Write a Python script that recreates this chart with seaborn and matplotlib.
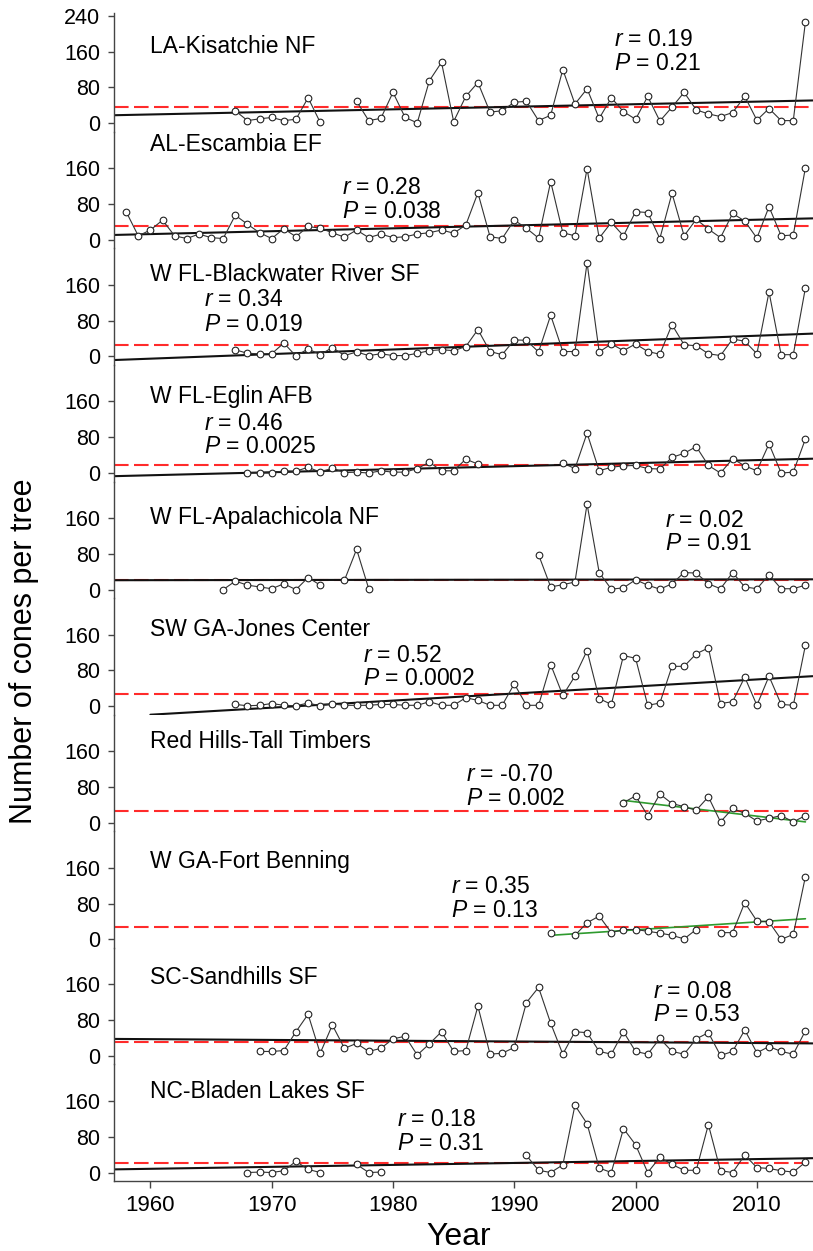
import numpy as np
import pandas as pd
import matplotlib
matplotlib.use("Agg")
import matplotlib.pyplot as plt
import seaborn as sns

nan = np.nan

# ---------------- data ----------------
site_names = ["LA-Kisatchie NF", "AL-Escambia EF", "W FL-Blackwater River SF",
              "W FL-Eglin AFB", "W FL-Apalachicola NF", "SW GA-Jones Center",
              "Red Hills-Tall Timbers", "W GA-Fort Benning", "SC-Sandhills SF",
              "NC-Bladen Lakes SF"]

start_years = [1967, 1958, 1967, 1968, 1966, 1967, 1999, 1993, 1969, 1968]

la_cones = [28, 6, 10, 13, 6, 9, 57, 2, nan, nan, 49, 6, 11, 69, 13, 1, 95, 136, 4, 60,
            91, 25, 28, 47, 49, 6, 18, 120, 43, 77, 11, 57, 26, 9, 60, 5, 36, 69, 30, 21,
            15, 24, 60, 7, 33, 6, 6, 226]
al_cones = [63, 9, 22, 44, 9, 3, 13, 5, 3, 55, 35, 16, 3, 25, 7, 30, 26, 16, 6, 22,
            5, 13, 5, 7, 13, 16, 22, 15, 33, 105, 7, 3, 44, 26, 4, 130, 16, 9, 159, 4,
            39, 9, 63, 61, 3, 104, 9, 46, 24, 5, 59, 42, 4, 74, 9, 11, 161]
bw_cones = [15, 7, 6, 6, 30, 1, 17, 4, 20, 2, 10, 2, 6, 2, 2, 7, 13, 15, 13, 22,
            60, 11, 4, 37, 36, 10, 92, 11, 11, 209, 10, 28, 13, 28, 11, 5, 71, 26, 24, 6,
            2, 39, 34, 6, 144, 4, 4, 153]
eg_cones = [0, 0, 0, 5, 4, 13, 2, 11, 1, 2, 0, 5, 2, 2, 10, 24, 5, 5, 31, 20,
            nan, nan, nan, nan, nan, nan,
            22, 10, 89, 5, 13, 16, 17, 10, 9, 35, 44, 59, 17, 0, 32, 16, 5, 65, 0, 2, 76]
ap_cones = [0, 19, 10, 6, 2, 13, 0, 27, 10, nan, 21, 90, 2,
            nan, nan, nan, nan, nan, nan, nan, nan, nan, nan, nan, nan, nan,
            78, 6, 11, 17, 191, 38, 1, 4, 22, 10, 1, 13, 38, 37, 13, 2, 38, 6, 2, 33,
            2, 2, 10]
jc_cones = [4, 1, 2, 6, 2, 1, 7, 1, 5, 2, 2, 2, 4, 4, 2, 2, 10, 2, 2, 19,
            13, 2, 2, 50, 2, 2, 93, 24, 67, 124, 17, 4, 113, 107, 2, 7, 89, 89, 117, 130,
            6, 10, 65, 2, 67, 4, 2, 136]
rh_cones = [45, 60, 16, 64, 43, 36, 28, 58, 2, 32, 21, 4, 10, 16, 2, 16]
fb_cones = [15, nan, 9, 37, 52, 15, 22, 22, 18, 14, 9, 1, 22, nan, 15, 15, 82, 41, 39, 0,
            11, 140]
sc_cones = [10, 10, 12, 54, 93, 6, 69, 17, 28, 10, 17, 38, 44, 2, 27, 54, 10, 12, 111, 4,
            6, 19, 119, 153, 73, 4, 54, 52, 10, 4, 54, 10, 4, 39, 10, 4, 38, 52, 1, 10,
            58, 7, 21, 10, 4, 56]
bl_cones = [0, 1, 0, 4, 25, 7, 0, nan, nan, 18, 0, 1,
            nan, nan, nan, nan, nan, nan, nan, nan, nan, nan, nan,
            38, 5, 0, 17, 150, 109, 10, 0, 98, 62, 0, 34, 18, 5, 5, 107, 4, 0, 39, 11,
            9, 4, 1, 23]

all_cones = [la_cones, al_cones, bw_cones, eg_cones, ap_cones, jc_cones, rh_cones,
             fb_cones, sc_cones, bl_cones]

mean_levels = [37, 30, 26, 17, 21, 28, 26, 28, 32, 22]

trend_x0 = [1957, 1957, 1957, 1957, 1957, 1960, 1999, 1993, 1957, 1957]
trend_x1 = [2014.6, 2014.6, 2014.6, 2014.6, 2014.6, 2014.6, 2014, 2014, 2014.6, 2014.6]
trend_y0 = [18, 11, -8, -7, 21, -19, 50, 9, 38, 7]
trend_y1 = [51, 48, 51, 32, 23, 67, 2, 46, 28, 32]
trend_green = [False, False, False, False, False, False, True, True, False, False]

r_labels = ["0.19", "0.28", "0.34", "0.46", "0.02", "0.52", "-0.70", "0.35", "0.08", "0.18"]
p_labels = ["0.21", "0.038", "0.019", "0.0025", "0.91", "0.0002", "0.002", "0.13", "0.53", "0.31"]

x_ticks = [1960, 1970, 1980, 1990, 2000, 2010]
y_ticks = [0, 80, 160]

# ---------------- layout / style ----------------
title_pos = [(1960, 171), (1960, 212), (1960, 183), (1960, 170), (1960, 161),
             (1960, 172), (1960, 181), (1960, 173), (1960, 174), (1960, 181)]
stat_pos = [(1998.2, 186, 133), (1975.8, 116, 63), (1964.4, 127, 71), (1964.4, 110, 59),
            (2002.4, 155, 102), (1977.5, 114, 61), (1986.0, 107, 55), (1984.8, 117, 65),
            (2001.4, 144, 92), (1980.3, 119, 65)]

sns.set_theme(style="ticks")
plt.rcParams['font.family'] = ['Liberation Sans', 'DejaVu Sans']
plt.rcParams['mathtext.fontset'] = 'custom'
plt.rcParams['mathtext.rm'] = 'Liberation Sans'
plt.rcParams['mathtext.it'] = 'Liberation Sans:italic'
plt.rcParams['text.color'] = 'black'
plt.rcParams['xtick.labelcolor'] = 'black'
plt.rcParams['ytick.labelcolor'] = 'black'

W, H = 813, 1251
fig = plt.figure(figsize=(W / 100, H / 100), dpi=100)

px_per_unit = 0.448
px_per_year = 12.13
zero0, step = 123.3, 116.58
left_px = 114
ymin = -19
xmin = 1957
xmax = xmin + (W - left_px) / px_per_year

ytick_fs = 15.5
xtick_fs = 16
text_fs = 16.5
spine_col = "#444444"

for i in range(10):
    zero = zero0 + step * i
    bottom_px = zero - ymin * px_per_unit
    top_px = 13 if i == 0 else bottom_px - step
    h_px = bottom_px - top_px
    ax = fig.add_axes([left_px / W, 1 - bottom_px / H, (W - left_px) / W, h_px / H])
    ax.patch.set_alpha(0)

    cones = np.array(all_cones[i], dtype=float)
    years = np.arange(start_years[i], start_years[i] + len(cones))
    seg = np.cumsum(np.isnan(cones))
    df = pd.DataFrame({"year": years, "cones": cones, "seg": seg}).dropna()

    ax.axhline(mean_levels[i], color="#ff2b2b", lw=1.5, dashes=(7, 2.6), zorder=1)

    tdf = pd.DataFrame({"year": [trend_x0[i], trend_x1[i]],
                        "v": [trend_y0[i], trend_y1[i]]})
    sns.lineplot(data=tdf, x="year", y="v", ax=ax,
                 color="#2e9a2e" if trend_green[i] else "#111111",
                 lw=1.2 if trend_green[i] else 1.5, zorder=2, legend=False)

    sns.lineplot(data=df, x="year", y="cones", units="seg", estimator=None, ax=ax,
                 color="#333333", lw=0.8, marker="o", markersize=4.8,
                 markerfacecolor="white", markeredgecolor="#222222",
                 markeredgewidth=0.8, zorder=3, legend=False, clip_on=False)

    ax.set_xlim(xmin, xmax)
    ax.set_ylim(ymin, ymin + h_px / px_per_unit)
    ax.set_xlabel("")
    ax.set_ylabel("")

    yt = y_ticks + ([240] if i == 0 else [])
    ax.set_yticks(yt)
    ax.set_yticklabels([str(v) for v in yt], fontsize=ytick_fs)
    ax.tick_params(axis="y", length=4, width=1, color=spine_col, pad=6)

    for s in ["top", "right"]:
        ax.spines[s].set_visible(False)
    ax.spines["left"].set_color(spine_col)
    ax.spines["left"].set_linewidth(1.0)

    if i < 9:
        ax.spines["bottom"].set_visible(False)
        ax.tick_params(axis="x", bottom=False, labelbottom=False)
    else:
        ax.spines["bottom"].set_color(spine_col)
        ax.spines["bottom"].set_linewidth(1.0)
        ax.set_xticks(x_ticks)
        ax.set_xticklabels([str(v) for v in x_ticks], fontsize=xtick_fs)
        ax.tick_params(axis="x", length=5, width=1, color=spine_col, pad=5)

    tx, ty = title_pos[i]
    ax.text(tx, ty, site_names[i], fontsize=text_fs, ha="left", va="center")
    sx, ry, py = stat_pos[i]
    ax.text(sx, ry, r"$r$ = " + r_labels[i], fontsize=text_fs, ha="left", va="center")
    ax.text(sx, py, r"$P$ = " + p_labels[i], fontsize=text_fs, ha="left", va="center")

fig.text(24 / W, 1 - 651 / H, "Number of cones per tree", rotation=90,
         fontsize=22, ha="center", va="center")
fig.text(459 / W, 1 - 1237 / H, "Year", fontsize=23, ha="center", va="center")

fig.savefig("out.png", dpi=100)
